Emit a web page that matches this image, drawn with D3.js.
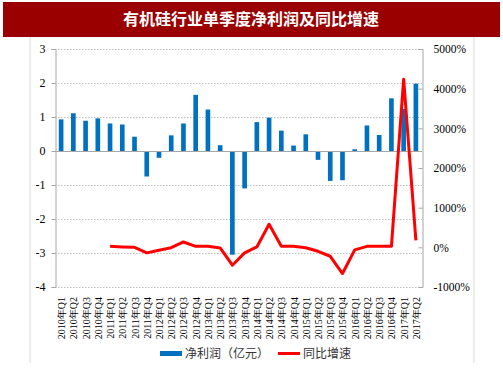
<!DOCTYPE html>
<html>
<head>
<meta charset="utf-8">
<script src="https://cdn.jsdelivr.net/npm/d3@7"></script>
<style>
  body { margin: 0; background: #fff; }
  svg { display: block; }
</style>
</head>
<body>
<svg id="chart" width="503" height="378"></svg>
<script>
// quarters 2010Q1 .. 2017Q2
const quarters = ['2010年Q1','2010年Q2','2010年Q3','2010年Q4',
  '2011年Q1','2011年Q2','2011年Q3','2011年Q4',
  '2012年Q1','2012年Q2','2012年Q3','2012年Q4',
  '2013年Q1','2013年Q2','2013年Q3','2013年Q4',
  '2014年Q1','2014年Q2','2014年Q3','2014年Q4',
  '2015年Q1','2015年Q2','2015年Q3','2015年Q4',
  '2016年Q1','2016年Q2','2016年Q3','2016年Q4',
  '2017年Q1','2017年Q2'];

// 净利润（亿元）
const profit = [0.93, 1.11, 0.89, 0.96, 0.81, 0.78, 0.42, -0.75,
  -0.2, 0.46, 0.81, 1.65, 1.22, 0.17, -3.05, -1.1,
  0.85, 0.98, 0.6, 0.16, 0.49, -0.26, -0.88, -0.86,
  0.05, 0.75, 0.47, 1.55, 1.24, 1.98];

// 同比增速 (%), no value for 2010
const growth = [null, null, null, null, 25, 10, 0, -140,
  -75, -10, 135, 25, 25, -15, -450, -140,
  10, 580, 25, 25, -10, -100, -225, -660,
  -65, 25, 25, 25, 4240, 175];

const leftTicks = [3, 2, 1, 0, -1, -2, -3, -4];
const rightTicks = [5000, 4000, 3000, 2000, 1000, 0, -1000];

const svg = d3.select('#chart');
const plot = {left: 55, right: 422, top: 49, bottom: 287};
const serif = '"Liberation Serif", "Times New Roman", serif';
const cjk = '"Noto Sans CJK SC", sans-serif';

// title banner
svg.append('rect')
  .attr('x', 3).attr('y', 2).attr('width', 497).attr('height', 35)
  .attr('fill', '#9a0000');
svg.append('text')
  .attr('x', 251).attr('y', 25)
  .attr('text-anchor', 'middle')
  .attr('fill', '#fff')
  .attr('font-family', cjk)
  .attr('font-weight', 'bold')
  .attr('font-size', 16)
  .text('有机硅行业单季度净利润及同比增速');

// light frame lines
[30, 474].forEach(x => {
  svg.append('line')
    .attr('x1', x).attr('x2', x).attr('y1', 37).attr('y2', 363)
    .attr('stroke', '#d9d9d9').attr('stroke-width', 1);
});

const x = d3.scaleBand()
  .domain(quarters)
  .range([plot.left, plot.right]);

const yL = d3.scaleLinear().domain([-4, 3]).range([plot.bottom, plot.top]);
const yR = d3.scaleLinear().domain([-1000, 5000]).range([plot.bottom, plot.top]);

// dotted grid lines
svg.append('g')
  .selectAll('line')
  .data(leftTicks.filter(d => d !== 0))
  .join('line')
  .attr('x1', plot.left).attr('x2', plot.right)
  .attr('y1', d => yL(d) + 0.5).attr('y2', d => yL(d) + 0.5)
  .attr('stroke', '#bfbfbf')
  .attr('stroke-dasharray', '1.5,1.5');

// left axis
const axL = svg.append('g')
  .attr('transform', `translate(${plot.left + 0.5},0)`)
  .call(d3.axisLeft(yL).tickValues(leftTicks).tickSize(4).tickPadding(6)
    .tickFormat(d => String(d)));
axL.select('.domain').attr('stroke', '#a6a6a6');
axL.selectAll('.tick line').attr('stroke', '#a6a6a6');
axL.selectAll('text')
  .attr('font-family', serif).attr('font-size', 12).attr('fill', '#000');

// right axis
const axR = svg.append('g')
  .attr('transform', `translate(${plot.right + 0.5},0)`)
  .call(d3.axisRight(yR).tickValues(rightTicks).tickSize(-4).tickPadding(11)
    .tickFormat(d => d + '%'));
axR.select('.domain').attr('stroke', '#a6a6a6');
axR.selectAll('.tick line').attr('stroke', '#a6a6a6');
axR.selectAll('text')
  .attr('font-family', serif).attr('font-size', 11.5).attr('fill', '#000');

// bars
const barW = x.bandwidth() * 0.38;
svg.append('g')
  .selectAll('rect')
  .data(profit)
  .join('rect')
  .attr('x', (d, i) => x(quarters[i]) + (x.bandwidth() - barW) / 2)
  .attr('y', d => yL(Math.max(0, d)))
  .attr('width', barW)
  .attr('height', d => Math.abs(yL(d) - yL(0)))
  .attr('fill', '#0070c0');

// zero line
svg.append('line')
  .attr('x1', plot.left).attr('x2', plot.right)
  .attr('y1', yL(0) + 0.5).attr('y2', yL(0) + 0.5)
  .attr('stroke', '#a6a6a6').attr('stroke-width', 1.2);

// growth line
const line = d3.line()
  .defined(d => d !== null)
  .x((d, i) => x(quarters[i]) + x.bandwidth() / 2)
  .y(d => yR(d));
svg.append('path')
  .datum(growth)
  .attr('d', line)
  .attr('fill', 'none')
  .attr('stroke', '#ff0000')
  .attr('stroke-width', 3)
  .attr('stroke-linejoin', 'round');

// category labels, rotated
svg.append('g')
  .selectAll('text')
  .data(quarters)
  .join('text')
  .attr('transform', d => `translate(${x(d) + x.bandwidth() / 2 + 4},297) rotate(-90)`)
  .attr('text-anchor', 'end')
  .attr('font-family', serif)
  .attr('font-size', 10)
  .attr('fill', '#000')
  .text(d => d);

// legend
const lg = svg.append('g').attr('font-family', cjk).attr('font-size', 12).attr('fill', '#333');
lg.append('rect').attr('x', 160).attr('y', 351).attr('width', 22).attr('height', 5).attr('fill', '#0070c0');
lg.append('text').attr('x', 185).attr('y', 358).text('净利润（亿元）');
lg.append('line').attr('x1', 278).attr('x2', 300).attr('y1', 353.5).attr('y2', 353.5)
  .attr('stroke', '#ff0000').attr('stroke-width', 3);
lg.append('text').attr('x', 303).attr('y', 358).text('同比增速');
</script>
</body>
</html>
